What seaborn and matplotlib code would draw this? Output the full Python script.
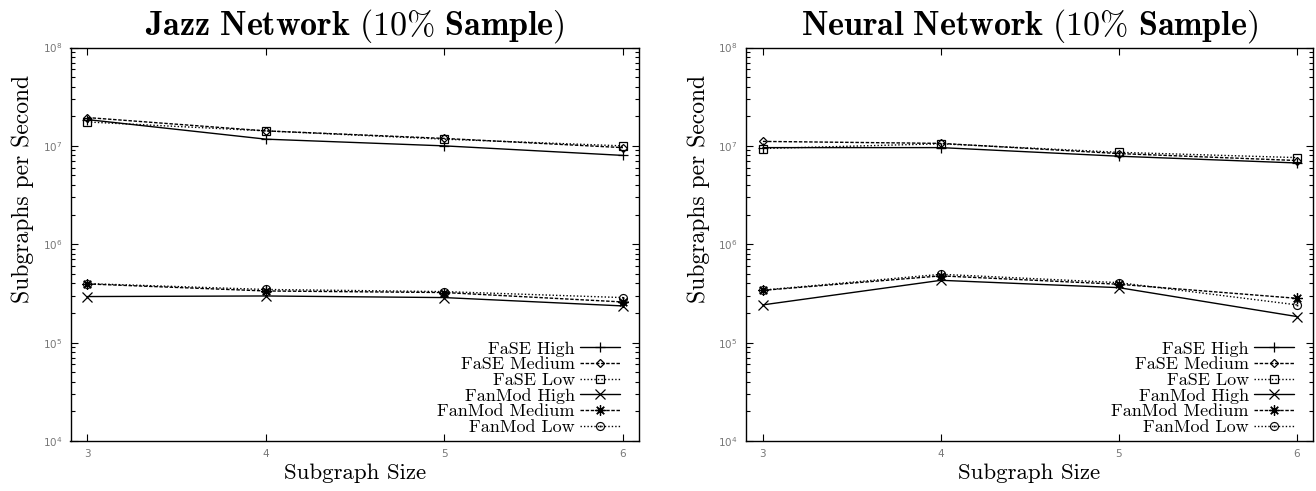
import numpy as np
import pandas as pd
import matplotlib
matplotlib.use("Agg")
import matplotlib.pyplot as plt
import seaborn as sns
from matplotlib.ticker import LogLocator, NullLocator, NullFormatter, FixedLocator


sizes = [3, 4, 5, 6]
series_names = ["FaSE High", "FaSE Medium", "FaSE Low",
                "FanMod High", "FanMod Medium", "FanMod Low"]

# Jazz network (10% sample)
jazz_fase_high = [1.85e7, 1.17e7, 1.0e7, 8.0e6]
jazz_fase_medium = [1.94e7, 1.42e7, 1.19e7, 9.6e6]
jazz_fase_low = [1.75e7, 1.42e7, 1.17e7, 1.0e7]
jazz_fanmod_high = [2.94e5, 2.98e5, 2.87e5, 2.36e5]
jazz_fanmod_medium = [3.95e5, 3.35e5, 3.23e5, 2.59e5]
jazz_fanmod_low = [3.98e5, 3.47e5, 3.30e5, 2.87e5]

# Neural network (10% sample)
neural_fase_high = [9.6e6, 9.6e6, 7.85e6, 6.7e6]
neural_fase_medium = [1.11e7, 1.06e7, 8.35e6, 7.1e6]
neural_fase_low = [9.4e6, 1.05e7, 8.6e6, 7.6e6]
neural_fanmod_high = [2.42e5, 4.3e5, 3.62e5, 1.84e5]
neural_fanmod_medium = [3.4e5, 4.77e5, 3.92e5, 2.82e5]
neural_fanmod_low = [3.42e5, 4.95e5, 4.07e5, 2.42e5]

STYLES = {
    "FaSE High": dict(linestyle="-", marker="+", ms=7.5, mew=0.9),
    "FaSE Medium": dict(dashes=(2.5, 1.2), marker="D", ms=4.5, mfc="none", mew=0.9),
    "FaSE Low": dict(dashes=(1, 1.5), marker="s", ms=6, mfc="none", mew=0.9),
    "FanMod High": dict(linestyle="-", marker="x", ms=6.5, mew=0.9),
    "FanMod Medium": dict(dashes=(2.5, 1.2), marker=(8, 2, 0), ms=7.5, mew=0.9),
    "FanMod Low": dict(dashes=(1, 1.5), marker=r"$\odot$", ms=6.5, mew=0.1),
}

sns.set_style("ticks")
plt.rcParams["mathtext.fontset"] = "dejavusans"
plt.rcParams["axes.linewidth"] = 1.0
plt.rcParams["text.color"] = "black"


def make_frame(values):
    rows = []
    for name, vals in zip(series_names, values):
        for s, v in zip(sizes, vals):
            rows.append({"size": s, "rate": v, "series": name})
    return pd.DataFrame(rows)


def draw_panel(ax, df, title):
    for name in series_names:
        sub = df[df["series"] == name]
        st = dict(STYLES[name])
        mew = st.pop("mew")
        sns.lineplot(data=sub, x="size", y="rate", ax=ax, color="black",
                     lw=1.0, markeredgewidth=mew, markeredgecolor="black",
                     label=name, **st)
    ax.set_yscale("log")
    ax.set_ylim(1e4, 1e8)
    ax.set_xlim(2.905, 6.09)
    ax.xaxis.set_major_locator(FixedLocator(sizes))
    ax.xaxis.set_minor_locator(NullLocator())
    ax.yaxis.set_major_locator(LogLocator(base=10, numticks=10))
    ax.yaxis.set_minor_locator(LogLocator(base=10, subs=np.arange(2, 10), numticks=20))
    ax.yaxis.set_minor_formatter(NullFormatter())
    ax.tick_params(which="both", direction="in", top=True, right=True,
                   color="black", labelcolor="#777777", labelsize=7.5, width=0.8)
    ax.tick_params(which="major", length=5, pad=6)
    ax.tick_params(which="minor", length=3)
    for sp in ax.spines.values():
        sp.set_visible(True)
        sp.set_color("black")
    ax.set_title(title, fontsize=24.5, math_fontfamily="cm", pad=9, color="black")
    ax.set_xlabel("Subgraph Size", fontfamily="cmr10", fontsize=16.5,
                  labelpad=3, color="black")
    ax.set_ylabel("Subgraphs per Second", fontfamily="cmr10", fontsize=17,
                  color="black")
    ax.yaxis.set_label_coords(-0.064, 0.641)
    leg = ax.legend(loc="lower right", frameon=False, markerfirst=False,
                    prop={"family": "cmr10", "size": 13}, labelspacing=0.0,
                    handlelength=2.2, handletextpad=0.3, borderaxespad=0,
                    borderpad=0, bbox_to_anchor=(1 - 19 / 568, 6 / 393))
    for t in leg.get_texts():
        t.set_ha("right")
    leg._legend_box.align = "right"
    for packer in leg._legend_handle_box.get_children():
        packer.align = "right"


fig = plt.figure(figsize=(13.16, 4.91), dpi=100)
ax1 = fig.add_axes([70.5 / 1316, 50 / 491, 568.5 / 1316, 393.5 / 491])
ax2 = fig.add_axes([746 / 1316, 50 / 491, 567 / 1316, 393.5 / 491])

jazz = make_frame([jazz_fase_high, jazz_fase_medium, jazz_fase_low,
                   jazz_fanmod_high, jazz_fanmod_medium, jazz_fanmod_low])
neural = make_frame([neural_fase_high, neural_fase_medium, neural_fase_low,
                     neural_fanmod_high, neural_fanmod_medium, neural_fanmod_low])

draw_panel(ax1, jazz, r"$\mathbf{Jazz\ Network\ (}10\%\ \mathbf{Sample)}$")
draw_panel(ax2, neural, r"$\mathbf{Neural\ Network\ (}10\%\ \mathbf{Sample)}$")

plt.savefig("out.png", dpi=100)
plt.close()
